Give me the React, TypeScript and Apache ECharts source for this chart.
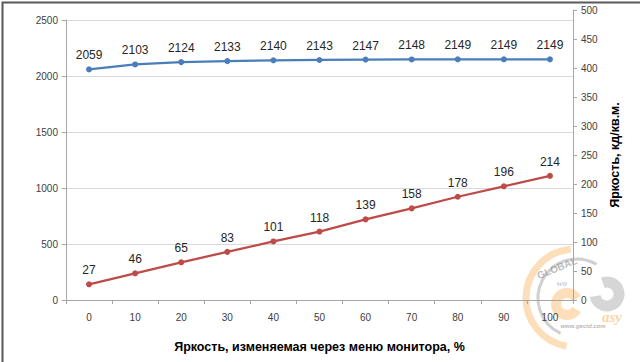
import React, { useEffect, useRef } from "react";
import * as echarts from "echarts";

const categories = ["0", "10", "20", "30", "40", "50", "60", "70", "80", "90", "100"];
const seriesLeft = [2059, 2103, 2124, 2133, 2140, 2143, 2147, 2148, 2149, 2149, 2149];
const seriesRight = [27, 46, 65, 83, 101, 118, 139, 158, 178, 196, 214];
const xTitle = "Яркость, изменяемая через меню монитора, %";
const rightTitle = "Яркость, кд/кв.м.";

const FONT = "'Liberation Sans', Arial, sans-serif";

export default function App() {
  const ref = useRef<HTMLDivElement>(null);
  useEffect(() => {
    document.body.style.margin = "0";
    const chart = echarts.init(ref.current!, null, { renderer: "svg" });
    const axisLineStyle = { color: "#a6a6a6", width: 1 };
    const plain = (v: number) => String(v);
    const deg = (d: number) => (d * Math.PI) / 180;
    chart.setOption({
      animation: false,
      backgroundColor: "#ffffff",
      textStyle: { fontFamily: FONT },
      grid: [
        { left: 66, right: 67, top: 20, bottom: 62 },
        { left: 66, right: 67, top: 10, bottom: 62 },
      ],
      xAxis: [
        {
          type: "category",
          gridIndex: 0,
          data: categories,
          boundaryGap: true,
          axisLine: { lineStyle: axisLineStyle },
          axisTick: { show: true, length: 4, lineStyle: axisLineStyle },
          axisLabel: { color: "#404040", fontSize: 10, margin: 12, fontFamily: FONT },
          name: xTitle,
          nameLocation: "middle",
          nameGap: 40,
          nameTextStyle: { color: "#000", fontSize: 12.5, fontWeight: "bold", fontFamily: FONT },
        },
        { type: "category", gridIndex: 1, data: categories, boundaryGap: true, show: false },
      ],
      yAxis: [
        {
          type: "value",
          gridIndex: 0,
          min: 0,
          max: 2500,
          interval: 500,
          axisLine: { show: true, lineStyle: axisLineStyle },
          axisTick: { show: true, length: 4, lineStyle: axisLineStyle },
          axisLabel: { color: "#404040", fontSize: 10, margin: 8, fontFamily: FONT, formatter: plain },
          splitLine: { show: true, lineStyle: { color: "#d9d9d9", width: 1 } },
        },
        {
          type: "value",
          gridIndex: 1,
          position: "right",
          min: 0,
          max: 500,
          interval: 50,
          axisLine: { show: true, lineStyle: axisLineStyle },
          axisTick: { show: true, length: 4, lineStyle: axisLineStyle },
          axisLabel: { color: "#404040", fontSize: 10, margin: 8, fontFamily: FONT, formatter: plain },
          splitLine: { show: false },
          name: rightTitle,
          nameLocation: "middle",
          nameRotate: 90,
          nameGap: 34,
          nameTextStyle: { color: "#000", fontSize: 12.5, fontWeight: "bold", fontFamily: FONT },
        },
      ],
      series: [
        {
          type: "line",
          xAxisIndex: 0,
          yAxisIndex: 0,
          data: seriesLeft,
          symbol: "circle",
          symbolSize: 6,
          lineStyle: { color: "#4a7ebb", width: 2.25 },
          itemStyle: { color: "#4a7ebb" },
          label: { show: true, position: "top", distance: 5, color: "#262626", fontSize: 12, fontFamily: FONT },
        },
        {
          type: "line",
          xAxisIndex: 1,
          yAxisIndex: 1,
          data: seriesRight,
          symbol: "circle",
          symbolSize: 6,
          lineStyle: { color: "#be4b48", width: 2.25 },
          itemStyle: { color: "#be4b48" },
          label: { show: true, position: "top", distance: 5, color: "#262626", fontSize: 12, fontFamily: FONT },
        },
      ],
      graphic: [
        {
          type: "rect",
          left: 0,
          top: 0,
          shape: { width: 639, height: 361 },
          style: { fill: "none", stroke: "#595959", lineWidth: 2 },
          silent: true,
          z: 100,
        },
        {
          type: "group",
          z: 90,
          silent: true,
          children: [
            {
              type: "arc",
              shape: { cx: 575, cy: 298, r: 49, startAngle: deg(100), endAngle: deg(265) },
              style: { stroke: "rgba(250,200,140,0.6)", lineWidth: 7, fill: "none" },
            },
            {
              type: "arc",
              shape: { cx: 577, cy: 298, r: 39, startAngle: deg(115), endAngle: deg(300) },
              style: { stroke: "rgba(170,170,170,0.55)", lineWidth: 3, fill: "none" },
            },
            {
              type: "text",
              x: 557,
              y: 268,
              rotation: deg(22),
              style: { text: "GLOBAL", fill: "rgba(150,150,150,0.65)", font: "bold 10px 'Liberation Sans'", align: "center", verticalAlign: "middle" },
            },
            {
              type: "text",
              x: 562,
              y: 283,
              style: { text: "wo", fill: "rgba(150,150,170,0.5)", font: "italic bold 9px 'Liberation Serif'", align: "center", verticalAlign: "middle" },
            },
            {
              type: "arc",
              shape: { cx: 567, cy: 304, r: 11, startAngle: deg(30), endAngle: deg(330) },
              style: { stroke: "rgba(250,200,140,0.6)", lineWidth: 10, fill: "none" },
            },
            {
              type: "arc",
              shape: { cx: 607, cy: 294, r: 12, startAngle: deg(-110), endAngle: deg(170) },
              style: { stroke: "rgba(200,200,200,0.75)", lineWidth: 11, fill: "none" },
            },
            {
              type: "text",
              x: 612,
              y: 317,
              style: { text: "asy", fill: "rgba(250,200,140,0.8)", font: "italic bold 15px 'Liberation Serif'", align: "center", verticalAlign: "middle" },
            },
            {
              type: "text",
              x: 583,
              y: 326,
              style: { text: "www.gecid.com", fill: "rgba(150,150,150,0.7)", font: "italic bold 6px 'Liberation Sans'", align: "center", verticalAlign: "middle" },
            },
          ],
        },
      ],
    });
    return () => chart.dispose();
  }, []);
  return <div ref={ref} style={{ width: 640, height: 362 }} />;
}
